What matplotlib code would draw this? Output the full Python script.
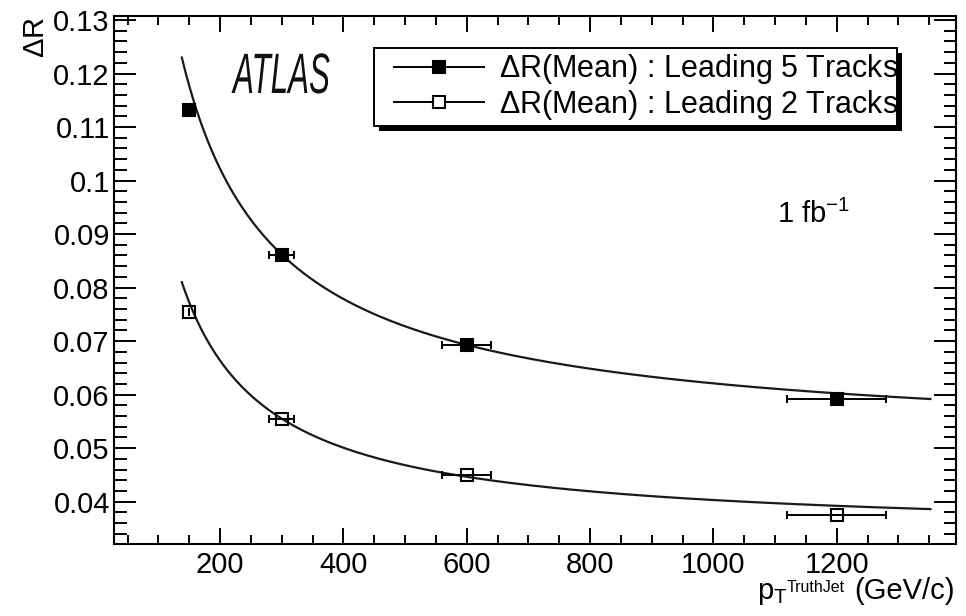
import numpy as np
import matplotlib
matplotlib.use("Agg")
import matplotlib.pyplot as plt
from matplotlib.lines import Line2D
from matplotlib.patches import Rectangle
from matplotlib.transforms import Affine2D
import matplotlib.patheffects as pe
from matplotlib.ticker import MultipleLocator, FixedLocator, FixedFormatter

# --- data -------------------------------------------------------------
pt_jet = [150, 300, 600, 1200]
pt_err = [0, 20, 40, 80]
dr_lead5 = [0.1131, 0.0860, 0.0692, 0.0592]
dr_lead2 = [0.0754, 0.0554, 0.0449, 0.0376]

# fit: p0 + p1 * pT^(-p2)
fit_lead5 = [0.0498, 6.17, 0.9]
fit_lead2 = [0.0338, 6.515, 1.0]
fit_range = [138, 1352]

x_ticks = [200, 400, 600, 800, 1000, 1200]
y_ticks = [0.04, 0.05, 0.06, 0.07, 0.08, 0.09, 0.1, 0.11, 0.12, 0.13]
y_tick_labels = ["0.04", "0.05", "0.06", "0.07", "0.08", "0.09", "0.1",
                 "0.11", "0.12", "0.13"]
legend_labels = [r"$\Delta$R(Mean) : Leading 5 Tracks",
                 r"$\Delta$R(Mean) : Leading 2 Tracks"]

# --- style ------------------------------------------------------------
plt.rcParams["font.family"] = ["Liberation Sans", "DejaVu Sans"]
plt.rcParams["mathtext.fontset"] = "custom"
plt.rcParams["mathtext.rm"] = "Liberation Sans"
plt.rcParams["mathtext.it"] = "Liberation Sans:italic"
plt.rcParams["mathtext.bf"] = "Liberation Sans:bold"

W, H = 966, 616
fig = plt.figure(figsize=(W / 100, H / 100), dpi=100)
ax = fig.add_axes([114 / W, 1 - 544 / H, (955.7 - 114) / W, (544 - 15.7) / H])
ax.set_xlim(28, 1393)
ax.set_ylim(0.0321, 0.1308)

for s in ax.spines.values():
    s.set_linewidth(1.5)

# fitted curves
xf = np.linspace(fit_range[0], fit_range[1], 400)
for p in (fit_lead5, fit_lead2):
    ax.plot(xf, p[0] + p[1] * xf ** (-p[2]), color="#1a1a1a", lw=1.6, zorder=2)

# points with horizontal errors
for y, face in ((dr_lead5, "black"), (dr_lead2, "none")):
    ax.errorbar(pt_jet, y, xerr=pt_err, fmt="none", ecolor="black",
                elinewidth=1.4, capsize=2.6, capthick=1.4, zorder=3)
    ax.plot(pt_jet, y, linestyle="none", marker="s", ms=9.2,
            mfc=face, mec="black", mew=1.5, zorder=4)

# ticks
ax.xaxis.set_major_locator(FixedLocator(x_ticks))
ax.xaxis.set_minor_locator(MultipleLocator(50))
ax.yaxis.set_major_locator(FixedLocator(y_ticks))
ax.yaxis.set_major_formatter(FixedFormatter(y_tick_labels))
ax.yaxis.set_minor_locator(MultipleLocator(0.002))
ax.tick_params(which="both", direction="in", top=True, right=True,
               width=1.4, labelsize=21)
ax.tick_params(axis="x", which="major", length=11.5, pad=5)
ax.tick_params(axis="x", which="minor", length=6.5)
ax.tick_params(axis="y", which="major", length=16, pad=3)
ax.tick_params(axis="y", which="minor", length=9)

# axis titles
fig.text(36 / W, 1 - 17 / H, r"$\Delta$R", rotation=90, ha="center",
         va="top", fontsize=21)
fig.text(757 / W, 1 - 599 / H, r"p$_{\mathregular{T}}$", ha="left",
         va="baseline", fontsize=21)
fig.text(787 / W, 1 - 592 / H, "TruthJet", ha="left", va="baseline",
         fontsize=11.5)
fig.text(955 / W, 1 - 599 / H, "(GeV/c)", ha="right", va="baseline",
         fontsize=21)


# narrow italic experiment label
class Condense(pe.AbstractPathEffect):
    def __init__(self, sx):
        super().__init__()
        self.sx = sx

    def draw_path(self, renderer, gc, tpath, affine, rgbFace=None):
        renderer.draw_path(gc, tpath, Affine2D().scale(self.sx, 1) + affine,
                           rgbFace)


fig.text(233 / W, 1 - 93 / H, "ATLAS", fontsize=41, style="italic",
         ha="left", va="baseline", color="#111111",
         path_effects=[Condense(0.55)])

fig.text(777 / W, 1 - 223 / H, r"1 fb$^{\mathregular{-1}}$", fontsize=21,
         ha="left", va="baseline")

# legend box with drop shadow
box_l, box_t, box_r, box_b = 374, 48.3, 897, 126
sh = 5
fig.patches.append(Rectangle(((box_l + sh) / W, 1 - (box_b + sh) / H),
                             (box_r - box_l) / W, (box_b - box_t) / H,
                             transform=fig.transFigure, facecolor="black",
                             edgecolor="black", lw=0, zorder=5))
fig.patches.append(Rectangle((box_l / W, 1 - box_b / H),
                             (box_r - box_l) / W, (box_b - box_t) / H,
                             transform=fig.transFigure, facecolor="white",
                             edgecolor="black", lw=1.4, zorder=6))

handles = [
    Line2D([], [], color="black", lw=1.4, marker="s", ms=9.2, mfc="black",
           mec="black", mew=1.5),
    Line2D([], [], color="black", lw=1.4, marker="s", ms=9.2, mfc="white",
           mec="black", mew=1.5),
]
leg = fig.legend(handles, legend_labels, loc="center left",
                 bbox_to_anchor=(394 / W, 1 - 87 / H), frameon=False,
                 fontsize=22, handlelength=2.95, handletextpad=0.5,
                 labelspacing=0.05, borderpad=0, borderaxespad=0)
leg.set_zorder(7)

fig.savefig("out.png", dpi=100)
